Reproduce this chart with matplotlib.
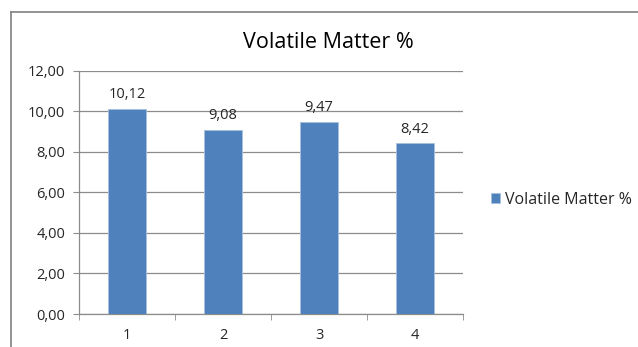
import matplotlib.pyplot as plt
from matplotlib.lines import Line2D
from matplotlib.ticker import FixedLocator, NullFormatter

plt.rcParams['font.family'] = ['Open Sans', 'DejaVu Sans']

# Volatile matter per sample
samples = ['1', '2', '3', '4']
volatile_matter = [10.12, 9.08, 9.47, 8.42]
series_name = 'Volatile Matter %'

bar_color = '#4F81BD'
grid_color = '#8C8C8C'
text_color = '#262626'

fig = plt.figure(figsize=(6.38, 3.47), dpi=100)
ax = fig.add_axes([0.1238, 0.0951, 0.602, 0.7003])

x = list(range(len(samples)))
bars = ax.bar(x, volatile_matter, width=0.4, color=bar_color,
              edgecolor='#A7C0DE', linewidth=0.6, label=series_name, zorder=3)

for xi, v in zip(x, volatile_matter):
    ax.annotate(f'{v:.2f}'.replace('.', ','), (xi, v), xytext=(0, 5),
                textcoords='offset points', ha='center', va='bottom',
                fontsize=10.5, color=text_color)

ax.set_xlim(-0.5, len(samples) - 0.5)
ax.set_ylim(0, 12)
ax.set_yticks([0, 2, 4, 6, 8, 10, 12])
ax.set_yticklabels([f'{t:.2f}'.replace('.', ',') for t in [0, 2, 4, 6, 8, 10, 12]])
ax.set_xticks(x)
ax.set_xticklabels(samples)

# tick marks sit between categories, labels at the centres
ax.xaxis.set_minor_locator(FixedLocator([-0.5, 0.5, 1.5, 2.5, 3.5]))
ax.xaxis.set_minor_formatter(NullFormatter())
ax.tick_params(axis='x', which='major', length=0, pad=10, labelsize=10.5, colors=text_color)
ax.tick_params(axis='x', which='minor', length=4, color=grid_color, direction='out')
ax.tick_params(axis='y', length=4, labelsize=10.5, colors=text_color, pad=6)
ax.tick_params(axis='y', color=grid_color)

ax.yaxis.grid(True, color=grid_color, linewidth=0.9, zorder=0)
ax.set_axisbelow(True)
for side in ['top', 'right']:
    ax.spines[side].set_visible(False)
for side in ['left', 'bottom']:
    ax.spines[side].set_color(grid_color)
    ax.spines[side].set_linewidth(0.9)

fig.text(0.514, 0.878, series_name, ha='center', va='center',
         fontsize=15.5, color='black')

ax.legend(loc='center left', bbox_to_anchor=(1.035, 0.47), frameon=False,
          fontsize=11.5, handlelength=0.6, handleheight=0.6, handletextpad=0.3,
          labelcolor=text_color)

# chart frame
fig.add_artist(Line2D([0.0172, 0.0172], [0.0, 0.9654], color='#808080',
                      linewidth=1.2, transform=fig.transFigure))
fig.add_artist(Line2D([0.0172, 1.0], [0.9654, 0.9654], color='#808080',
                      linewidth=1.2, transform=fig.transFigure))

fig.savefig('out.png', dpi=100)
